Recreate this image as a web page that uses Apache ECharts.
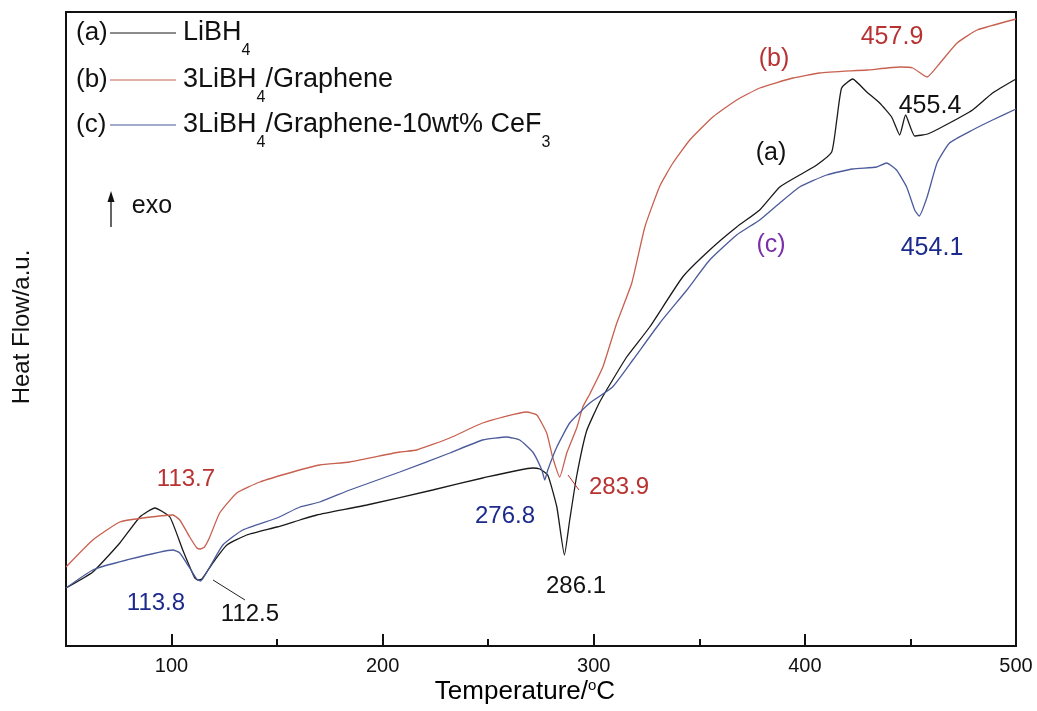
<!DOCTYPE html>
<html><head><meta charset="utf-8">
<script src="https://cdn.jsdelivr.net/npm/echarts@6/dist/echarts.min.js"></script>
<style>html,body{margin:0;padding:0;background:#fff}#c{width:1037px;height:711px}</style>
</head><body><div id="c"></div>
<script>
// Temperature (°C) and heat flow (a.u., arbitrary)
var tempA = [50, 62.7, 75.5, 85.0, 92.1, 99.2, 105.3, 111.0, 112.5, 114.4, 119.5, 126.2, 135.6, 149.9, 160.8, 168.8, 192.5, 223.7, 247.4, 271.1, 274.4, 278.2, 282.5, 286.1, 288.6, 291.9, 296.6, 302.8, 308.9, 315.6, 326.5, 342.1, 354.9, 367.7, 378.6, 388.1, 397.5, 405.6, 412.7, 415.1, 417.4, 422.6, 429.3, 435.4, 441.1, 444.9, 447.7, 452.0, 458.1, 468.5, 479.4, 488.9, 500];
var flowA = [58, 74, 103, 129, 138, 129, 96, 68, 66, 67, 83, 101, 111, 119, 126, 131, 141, 156, 168, 178, 177, 171, 139, 91, 126, 170, 215, 244, 266, 289, 319, 369, 396, 419, 436, 459, 471, 481, 494, 526, 558, 567, 554, 543, 529, 511, 531, 510, 512, 523, 536, 553, 567];

var tempB = [50, 62.7, 75.5, 86.4, 100.6, 103.9, 108.6, 112.0, 113.7, 115.6, 118.1, 122.8, 130.9, 141.8, 157.4, 170.2, 184.4, 208.1, 216.1, 231.8, 247.4, 268.2, 273.0, 277.7, 280.5, 283.9, 287.2, 291.9, 294.8, 298.1, 304.3, 310.9, 318.0, 324.2, 331.3, 337.5, 345.5, 356.4, 367.7, 378.6, 394.3, 407.0, 429.3, 444.9, 451.1, 457.9, 464.0, 472.1, 481.6, 500];
var flowB = [79, 106, 124, 128, 131, 126, 109, 98, 97, 99, 109, 133, 153, 164, 174, 181, 184, 194, 196, 208, 223, 234, 231, 213, 189, 169, 193, 218, 239, 252, 279, 323, 363, 419, 460, 483, 506, 529, 546, 558, 568, 573, 576, 579, 578, 569, 583, 603, 616, 627];

var tempC = [50, 62.7, 78.8, 100.6, 103.9, 108.6, 111.9, 113.8, 118.1, 124.3, 133.7, 149.9, 160.8, 170.2, 184.4, 208.1, 231.8, 247.4, 258.7, 264.9, 271.1, 275.4, 276.8, 278.2, 282.5, 288.6, 298.1, 308.9, 318.5, 331.3, 344.1, 354.9, 367.7, 378.6, 388.1, 397.5, 410.3, 422.6, 434.0, 438.7, 443.4, 448.2, 452.0, 454.1, 457.9, 462.6, 468.5, 479.4, 488.9, 500];
var flowC = [58, 76, 86, 96, 93, 78, 67, 65, 79, 101, 116, 128, 139, 144, 156, 174, 193, 206, 209, 206, 194, 176, 166, 176, 199, 223, 243, 259, 286, 323, 356, 386, 411, 426, 443, 459, 471, 477, 479, 483, 476, 459, 436, 430, 449, 483, 503, 516, 526, 537];

var majorTicks = [100, 200, 300, 400, 500];
var minorTicks = [150, 250, 350, 450];
var seriesNames = ['LiBH4', '3LiBH4/Graphene', '3LiBH4/Graphene-10wt% CeF3'];

function zip(xs, ys) { var o = []; for (var i = 0; i < Math.min(xs.length, ys.length); i++) o.push([xs[i], ys[i]]); return o; }

var FONT = 'Liberation Sans, Arial, Helvetica, sans-serif';
var C_BLACK = '#1a1a1a', C_RED = '#c8604f', C_BLUE = '#4b5b9b';
var T_RED = '#b83232', T_BLUE = '#1c2a8c', T_PURPLE = '#7b2fa8', T_BLACK = '#111';

var chart = echarts.init(document.getElementById('c'), null, {renderer: 'canvas'});

function txt(x, y, s, color, opts) {
  opts = opts || {};
  return {type: 'text', x: x, y: y, z: 100, rotation: opts.rotation || 0,
    style: {text: s, fill: color, font: (opts.size || 24) + 'px ' + FONT,
      align: opts.align || 'center', verticalAlign: opts.va || 'middle'}};
}
var subRich = {
  n: {fontSize: 27, fontFamily: FONT, lineHeight: 52, color: T_BLACK},
  s: {fontSize: 16, fontFamily: FONT, verticalAlign: 'bottom', color: T_BLACK}
};
function legendRow(y, tag, color, rich) {
  return [
    txt(76, y, tag, T_BLACK, {align: 'left', size: 26}),
    {type: 'line', z: 100, shape: {x1: 110, y1: y, x2: 176, y2: y}, style: {stroke: color, lineWidth: 1.2}},
    {type: 'text', z: 100, x: 183, y: y, style: {text: rich, rich: subRich, align: 'left', verticalAlign: 'middle', fill: T_BLACK, font: '27px ' + FONT}}
  ];
}

var graphics = [].concat(
  legendRow(33, '(a)', C_BLACK, '{n|LiBH}{s|4}'),
  legendRow(80, '(b)', C_RED, '{n|3LiBH}{s|4}{n|/Graphene}'),
  legendRow(125, '(c)', C_BLUE, '{n|3LiBH}{s|4}{n|/Graphene-10wt% CeF}{s|3}'),
  [
    {type: 'line', z: 100, shape: {x1: 111, y1: 227, x2: 111, y2: 198}, style: {stroke: '#111', lineWidth: 1.3}},
    {type: 'polygon', z: 100, shape: {points: [[111, 191], [107.5, 202], [114.5, 202]]}, style: {fill: '#111'}},
    txt(152, 206, 'exo', T_BLACK, {size: 25}),
    txt(892, 37, '457.9', T_RED, {size: 25}),
    txt(774, 59, '(b)', T_RED, {size: 25}),
    txt(930, 106, '455.4', T_BLACK, {size: 25}),
    txt(771, 153, '(a)', T_BLACK, {size: 25}),
    txt(771, 245, '(c)', T_PURPLE, {size: 25}),
    txt(932, 248, '454.1', T_BLUE, {size: 25}),
    txt(186, 479, '113.7', T_RED),
    txt(156, 603, '113.8', T_BLUE),
    txt(250, 614, '112.5', T_BLACK),
    {type: 'line', z: 100, shape: {x1: 213, y1: 580, x2: 245, y2: 600}, style: {stroke: '#222', lineWidth: 1}},
    txt(505, 516, '276.8', T_BLUE),
    txt(576, 586, '286.1', T_BLACK),
    txt(619, 487, '283.9', T_RED),
    {type: 'line', z: 100, shape: {x1: 568, y1: 475, x2: 579, y2: 490}, style: {stroke: T_RED, lineWidth: 1}},
    {type: 'text', z: 100, x: 525, y: 692, style: {text: '{m|Temperature/}{u|o}{m|C}', align: 'center', verticalAlign: 'middle',
      rich: {m: {fontSize: 26, fontFamily: FONT, lineHeight: 28, color: '#111'}, u: {fontSize: 15, fontFamily: FONT, verticalAlign: 'top', color: '#111'}}}},
    txt(22, 327, 'Heat Flow/a.u.', T_BLACK, {rotation: Math.PI / 2})
  ]
);

var lineBase = {type: 'line', xAxisIndex: 0, yAxisIndex: 0, showSymbol: false, smooth: 0.15};
var option = {
  animation: false,
  backgroundColor: '#fff',
  grid: [
    {left: 66, right: 21, top: 12, bottom: 65, show: true, borderColor: '#111', borderWidth: 2, backgroundColor: 'transparent'},
    {left: 66, right: 21, top: 12, bottom: 65, show: false}
  ],
  xAxis: [
    {type: 'value', gridIndex: 0, min: 50, max: 500,
      axisLine: {show: true, lineStyle: {color: '#111', width: 2}},
      axisTick: {show: true, inside: true, length: 12, customValues: majorTicks, lineStyle: {color: '#111', width: 2}},
      axisLabel: {show: true, customValues: majorTicks, fontSize: 20, color: '#111', margin: 10, fontFamily: FONT},
      splitLine: {show: false}},
    {type: 'value', gridIndex: 1, min: 50, max: 500,
      axisLine: {show: false},
      axisTick: {show: true, inside: true, length: 7, customValues: minorTicks, lineStyle: {color: '#111', width: 2}},
      axisLabel: {show: false}, splitLine: {show: false}}
  ],
  yAxis: [
    {type: 'value', gridIndex: 0, min: 0, max: 634, show: false},
    {type: 'value', gridIndex: 1, min: 0, max: 634, show: false}
  ],
  series: [
    Object.assign({}, lineBase, {name: seriesNames[0], data: zip(tempA, flowA), lineStyle: {color: C_BLACK, width: 1.3}, itemStyle: {color: C_BLACK}}),
    Object.assign({}, lineBase, {name: seriesNames[1], data: zip(tempB, flowB), lineStyle: {color: C_RED, width: 1.3}, itemStyle: {color: C_RED}}),
    Object.assign({}, lineBase, {name: seriesNames[2], data: zip(tempC, flowC), lineStyle: {color: C_BLUE, width: 1.3}, itemStyle: {color: C_BLUE}})
  ],
  graphic: graphics
};
chart.setOption(option);
</script></body></html>
